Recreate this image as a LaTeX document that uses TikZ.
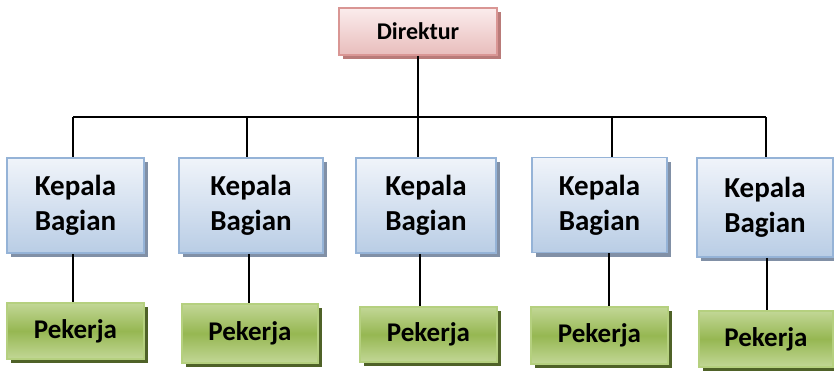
\documentclass[tikz,border=0pt]{standalone}
\usepackage{fontspec}
\setmainfont{Carlito}
\usetikzlibrary{shadows}
\definecolor{dirtop}{HTML}{FBECEC}
\definecolor{dirbot}{HTML}{E8BDBC}
\definecolor{dirline}{HTML}{D99694}
\definecolor{dirshad}{HTML}{A85A58}
\definecolor{keptop}{HTML}{F0F4FA}
\definecolor{kepbot}{HTML}{B9CDE5}
\definecolor{kepline}{HTML}{95B3D7}
\definecolor{kepshad}{HTML}{8190A6}
\definecolor{pektop}{HTML}{C2D796}
\definecolor{pekmid}{HTML}{96B752}
\definecolor{pekline}{HTML}{B5D07F}
\definecolor{pekshad}{HTML}{4F6228}
\tikzset{
  boxbase/.style={rectangle, inner sep=0pt, line width=1.5pt, align=center, text=black},
  dirbox/.style={boxbase, draw=dirline, top color=dirtop, bottom color=dirbot,
    drop shadow={shadow xshift=4pt, shadow yshift=-4pt, fill=dirshad, opacity=0.8},
    font=\bfseries\fontsize{24}{28}\selectfont},
  kepbox/.style={boxbase, draw=kepline, top color=keptop, bottom color=kepbot,
    drop shadow={shadow xshift=4pt, shadow yshift=-4pt, fill=kepshad, opacity=1},
    minimum height=95pt, font=\bfseries\fontsize{29}{35}\selectfont},
  pekbox/.style={boxbase, draw=pekline, shading=axis, top color=pektop, bottom color=pektop, middle color=pekmid,
    drop shadow={shadow xshift=4pt, shadow yshift=-4pt, fill=pekshad, opacity=1},
    font=\bfseries\fontsize{27}{30}\selectfont},
  conn/.style={draw=black, line width=1.6pt}
}
\begin{document}
\begin{tikzpicture}[x=1pt,y=-1pt]
\useasboundingbox (0,0) rectangle (834,373);
% Direktur
\node[dirbox, minimum width=158pt, minimum height=47pt] (dir) at (418,31.5) {Direktur};
% Kepala Bagian
\node[kepbox, minimum width=137pt] (K1) at (75.5,205.5) {Kepala\\Bagian};
\node[kepbox, minimum width=144pt] (K2) at (251,205.5) {Kepala\\Bagian};
\node[kepbox, minimum width=140pt] (K3) at (426,205.5) {Kepala\\Bagian};
\node[kepbox, minimum width=135pt] (K4) at (599.5,205) {Kepala\\Bagian};
\node[kepbox, minimum width=136pt, minimum height=99pt] (K5) at (765,207.5) {Kepala\\Bagian};
% Pekerja
\node[pekbox, minimum width=137pt, minimum height=56pt] (P1) at (75.5,331) {Pekerja};
\node[pekbox, minimum width=136pt, minimum height=59pt] (P2) at (250,333.5) {Pekerja};
\node[pekbox, minimum width=137pt, minimum height=55pt] (P3) at (428.5,334.5) {Pekerja};
\node[pekbox, minimum width=137pt, minimum height=57pt] (P4) at (599.5,335.5) {Pekerja};
\node[pekbox, minimum width=134pt, minimum height=56pt] (P5) at (766,339) {Pekerja};
% bus coordinates
\coordinate (b1) at (73,117);
\coordinate (b2) at (247,117);
\coordinate (b4) at (612,117);
\coordinate (b5) at (766,117);
\coordinate (l1) at (73,0);
\coordinate (l2) at (249,0);
\coordinate (l3) at (420,0);
\coordinate (l4) at (609,0);
\coordinate (l5) at (767,0);
% connectors
\draw[conn] (dir.south) -- (dir.south |- K3.north);
\draw[conn] (b1) -- (b5);
\draw[conn] (b1) -- (b1 |- K1.north);
\draw[conn] (b2) -- (b2 |- K2.north);
\draw[conn] (b4) -- (b4 |- K4.north);
\draw[conn] (b5) -- (b5 |- K5.north);
\draw[conn] (K1.south -| l1) -- (P1.north -| l1);
\draw[conn] (K2.south -| l2) -- (P2.north -| l2);
\draw[conn] (K3.south -| l3) -- (P3.north -| l3);
\draw[conn] (K4.south -| l4) -- (P4.north -| l4);
\draw[conn] (K5.south -| l5) -- (P5.north -| l5);
\end{tikzpicture}
\end{document}
